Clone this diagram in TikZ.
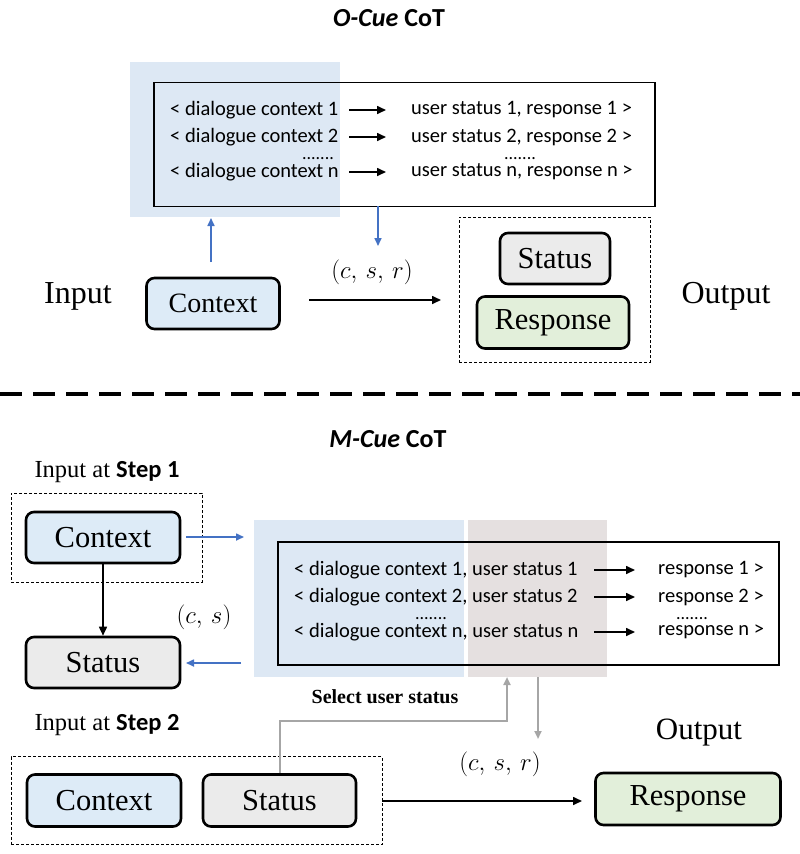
\documentclass[tikz,border=0pt]{standalone}
\usepackage{fontspec}
\setmainfont{Liberation Serif}
\newfontfamily\carl{Carlito}
\usetikzlibrary{arrows.meta}
\definecolor{boxblue}{HTML}{DDEBF7}
\definecolor{shadeblue}{HTML}{DDE8F4}
\definecolor{boxgray}{HTML}{EBEBEB}
\definecolor{shadegray}{HTML}{E5E0E0}
\definecolor{boxgreen}{HTML}{E2EFDA}
\definecolor{arrblue}{HTML}{4472C4}
\definecolor{arrgray}{HTML}{A6A6A6}
\tikzset{
  rbox/.style={draw=black, line width=2.6pt, rounded corners=8pt, inner sep=0pt, font=\fontsize{30.5}{33}\selectfont},
  dbox/.style={draw=black, line width=0.8pt, dash pattern=on 3pt off 2pt},
  row/.style={font=\carl\fontsize{20.5}{23}\selectfont, inner sep=0pt, anchor=west},
  dotrow/.style={font=\carl\fontsize{18}{20}\selectfont, inner sep=0pt, text height=3pt, text depth=0pt},
  rowarr/.style={line width=1.6pt, -{Triangle[length=9pt,width=8pt]}},
  barr/.style={draw=arrblue, line width=1.6pt, -{Triangle[length=8pt,width=7pt]}},
  garr/.style={draw=arrgray, line width=2pt, -{Triangle[length=8pt,width=7pt]}},
  karr/.style={line width=1.6pt, -{Triangle[length=9pt,width=8pt]}},
  lbl/.style={font=\fontsize{32}{36}\selectfont, inner sep=0pt},
  titl/.style={font=\carl\bfseries\fontsize{26}{30}\selectfont, inner sep=0pt},
  mlbl/.style={font=\fontsize{30}{34}\selectfont, inner sep=0pt},
  steplbl/.style={font=\fontsize{24.5}{28}\selectfont, inner sep=0pt},
}
\begin{document}
\begin{tikzpicture}[x=1pt,y=-1pt]
\useasboundingbox (0,0) rectangle (800,854);
% ---------- top ----------
\node[titl] (t1) at (389,18) {\textit{O-Cue} CoT};
\fill[shadeblue] (130,62) rectangle (340,217);
\node[draw=black, line width=1.4pt, minimum width=501pt, minimum height=124pt, inner sep=0pt] (bx1) at (404.5,144.2) {};
\node[row] (a1) at (170,110) {< dialogue context 1};
\node[row] (a2) at (170,137) {< dialogue context 2};
\node[dotrow] (a3) at (318,158) {.......};
\node[row] (a4) at (170,172) {< dialogue context n};
\node[row] (b1) at (411,110) {user status 1, response 1 >};
\node[row] (b2) at (411,137) {user status 2, response 2 >};
\node[dotrow] (b3) at (520,158) {.......};
\node[row] (b4) at (411,172) {user status n, response n >};
\foreach \y in {110,137,172}{
  \coordinate (p\y) at (349,\y); \coordinate (q\y) at (386,\y);
  \draw[rowarr] (p\y) -- (q\y);
}
\node[rbox, fill=boxblue, minimum width=133pt, minimum height=51pt, font=\fontsize{28}{31}\selectfont] (ctx1) at (213,303.5) {Context};
\node[lbl] (in1) at (78,296) {Input};
\node[dbox, minimum width=191pt, minimum height=145pt, inner sep=0pt] (ob1) at (554.5,289.5) {};
\node[rbox, fill=boxgray, minimum width=110pt, minimum height=51pt] (st1) at (555,258.5) {Status};
\node[rbox, fill=boxgreen, minimum width=152pt, minimum height=52pt] (rs1) at (553,322.5) {Response};
\node[lbl] (out1) at (726,296) {Output};
\coordinate (u1) at (211,262); \coordinate (u2) at (211,218);
\draw[barr] (u1) -- (u2);
\coordinate (d1) at (378,206); \coordinate (d2) at (378,246);
\draw[barr] (d1) -- (d2);
\coordinate (e1) at (309,300); \coordinate (e2) at (441,300);
\draw[karr] (e1) -- (e2);
\node[mlbl] (csr1) at (372,272) {$(c,\,s,\,r)$};
% ---------- separator ----------
\coordinate (s1) at (0,394); \coordinate (s2) at (800,394);
\draw[line width=3.6pt, dash pattern=on 22pt off 11pt] (s1) -- (s2);
% ---------- bottom ----------
\node[titl] (t2) at (388,439) {\textit{M-Cue} CoT};
\node[steplbl] (ia1) at (107,472) {Input at {\carl\bfseries Step 1}};
\node[dbox, minimum width=191pt, minimum height=89pt, inner sep=0pt] (db1) at (106.5,537.5) {};
\node[rbox, fill=boxblue, minimum width=154pt, minimum height=51pt] (ctx2) at (103,537.5) {Context};
\node[rbox, fill=boxgray, minimum width=154pt, minimum height=51pt] (st2) at (103,662.5) {Status};
\draw[karr] (ctx2) -- (st2);
\node[mlbl, font=\fontsize{27}{30}\selectfont] (cs) at (204,617) {$(c,\,s)$};
\fill[shadeblue] (254,520) rectangle (464,677);
\fill[shadegray] (468,520) rectangle (607,677);
\node[draw=black, line width=1.4pt, minimum width=501pt, minimum height=123pt, inner sep=0pt] (bx2) at (528.5,603.5) {};
\node[row] (c1) at (294,570) {< dialogue context 1, user status 1};
\node[row] (c2) at (294,597) {< dialogue context 2, user status 2};
\node[dotrow] (c3) at (431,618) {.......};
\node[row] (c4) at (294,632) {< dialogue context n, user status n};
\node[row] (r1) at (658,570) {response 1 >};
\node[row] (r2) at (658,597) {response 2 >};
\node[dotrow] (r3) at (692,618) {.......};
\node[row] (r4) at (658,632) {response n >};
\foreach \y in {570,597,632}{
  \coordinate (m\y) at (594,\y); \coordinate (n\y) at (635,\y);
  \draw[rowarr] (m\y) -- (n\y);
}
\coordinate (f1) at (186,537); \coordinate (f2) at (244,537);
\draw[barr] (f1) -- (f2);
\coordinate (g1) at (241,663); \coordinate (g2) at (186,663);
\draw[barr] (g1) -- (g2);
\node[font=\bfseries\fontsize{20}{23}\selectfont, inner sep=0pt] (sel) at (385,697) {Select user status};
\node[steplbl] (ia2) at (107,725) {Input at {\carl\bfseries Step 2}};
\node[lbl, font=\fontsize{31}{35}\selectfont] (out2) at (699,733) {Output};
\node[dbox, minimum width=371pt, minimum height=88pt, inner sep=0pt] (db2) at (196.5,800.5) {};
\node[rbox, fill=boxblue, minimum width=154pt, minimum height=52pt] (ctx3) at (104,800.5) {Context};
\node[rbox, fill=boxgray, minimum width=153pt, minimum height=52pt] (st3) at (279.5,800.5) {Status};
\node[rbox, fill=boxgreen, minimum width=185pt, minimum height=52pt] (rs2) at (688,799) {Response};
\coordinate (h1) at (507,721);
\draw[garr] (st3.north) |- (h1) -- (507,677);
\coordinate (k1) at (538,677); \coordinate (k2) at (538,739);
\draw[garr] (k1) -- (k2);
\coordinate (w1) at (382,801); \coordinate (w2) at (582,801);
\draw[karr] (w1) -- (w2);
\node[mlbl] (csr2) at (500,764) {$(c,\,s,\,r)$};
\end{tikzpicture}
\end{document}
